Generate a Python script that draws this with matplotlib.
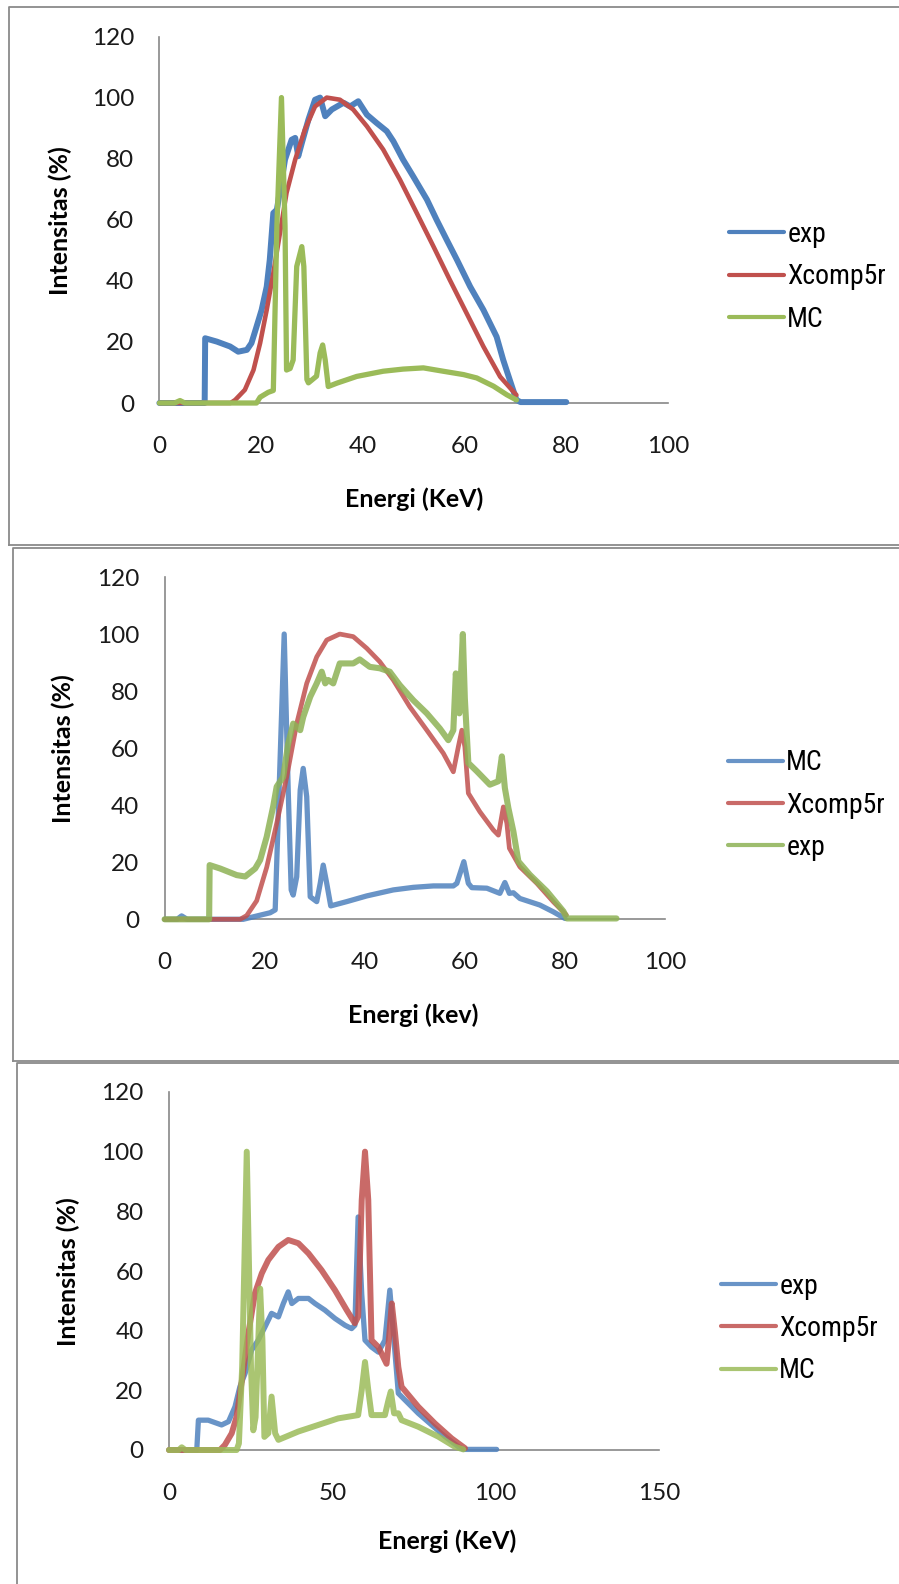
import matplotlib
matplotlib.use('Agg')
import matplotlib.pyplot as plt
from matplotlib.lines import Line2D
from matplotlib import font_manager as fm

# ---------------- data ----------------
# Panel 1 (top)
p1_exp_E = [0, 8.9, 9.0, 11.3, 13.9, 15.5, 17.2, 18.1, 19.1, 20.1, 21.1, 21.7, 22.4, 23.1, 24.7, 26.0,
            26.7, 27.3, 28.0, 29.3, 30.6, 31.6, 32.6, 33.9, 36.2, 37.5, 39.1, 40.8, 42.7, 44.7, 46.0,
            47.9, 49.9, 52.6, 54.5, 56.5, 58.5, 61.1, 63.7, 66.3, 67.6, 68.9, 70.2, 71.0, 80.0]
p1_exp_I = [0, 0, 21.2, 20.1, 18.5, 16.8, 17.4, 19.6, 25.0, 30.5, 38.1, 46.9, 62.2, 63.3, 79.7, 86.2,
            86.8, 80.8, 85.1, 92.8, 99.3, 100.0, 93.9, 96.1, 98.3, 97.1, 98.8, 94.4, 91.7, 89.0, 85.7,
            79.7, 74.2, 66.6, 60.0, 53.4, 46.9, 38.1, 30.5, 21.7, 14.1, 7.5, 1.0, 0.3, 0.3]
p1_xc_E = [0, 14.0, 14.9, 16.8, 18.5, 19.8, 21.1, 22.4, 23.7, 25.0, 26.7, 28.6, 30.6, 32.9, 35.5, 38.1,
           40.8, 44.0, 47.3, 50.6, 53.9, 57.1, 60.4, 63.7, 67.0, 70.2]
p1_xc_I = [0, 0, 1.0, 4.3, 10.8, 19.6, 30.5, 42.5, 55.6, 68.8, 79.7, 89.5, 97.1, 100.0, 99.3, 96.1,
           90.6, 83.0, 73.1, 62.2, 51.2, 40.3, 29.4, 18.5, 8.6, 2.6]
p1_mc_E = [0, 3.0, 4.05, 5.0, 19.1, 19.8, 21.4, 22.4, 23.1, 24.0, 24.7, 25.0, 25.7, 26.3, 27.0, 28.0,
           28.4, 29.0, 29.3, 30.9, 31.6, 32.1, 32.6, 33.2, 34.9, 38.8, 44.0, 47.9, 51.9, 55.8, 59.8,
           62.4, 65.7, 68.3, 70.2]
p1_mc_I = [0, 0, 0.8, 0, 0, 1.9, 3.5, 4.1, 58.0, 100.0, 58.0, 10.8, 11.3, 14.1, 44.7, 51.2,
           44.7, 7.7, 6.6, 8.8, 16.4, 19.0, 14.1, 5.4, 6.5, 8.7, 10.4, 11.1, 11.5, 10.4, 9.3,
           8.2, 5.5, 2.7, 1.0]

# Panel 2 (middle)
p2_mc_E = [0, 2.5, 3.4, 4.5, 15.7, 21.1, 22.1, 23.9, 24.7, 25.3, 25.7, 26.4, 27.1, 27.7, 28.4, 29.1,
           30.4, 31.1, 31.7, 32.4, 33.2, 36.4, 40.4, 45.7, 49.7, 53.7, 57.7, 58.4, 59.8, 60.7, 61.4,
           64.4, 67.0, 68.0, 68.9, 69.7, 71.0, 75.0, 77.7, 80.0]
p2_mc_I = [0, 0, 1.2, 0, 0, 2.3, 3.3, 100.0, 45.3, 10.3, 8.5, 14.9, 45.3, 52.9, 43.0, 7.9,
           6.2, 12.6, 19.0, 12.6, 4.7, 6.2, 8.2, 10.3, 11.2, 11.7, 11.7, 12.6, 20.2, 12.6, 11.1,
           10.9, 9.1, 12.9, 9.1, 9.3, 7.3, 5.0, 2.6, 0.3]
p2_xc_E = [0, 15.1, 16.4, 18.4, 20.4, 22.4, 24.4, 26.4, 28.4, 30.4, 32.4, 35.0, 37.7, 40.4, 43.0, 45.7,
           49.0, 52.4, 55.7, 57.7, 58.7, 59.4, 60.0, 60.7, 63.0, 65.7, 66.7, 67.7, 68.4, 68.9, 71.0,
           74.4, 77.7, 80.3]
p2_xc_I = [0, 0, 1.3, 6.5, 18.2, 33.6, 49.9, 68.6, 82.7, 92.0, 97.9, 100.0, 99.1, 95.0, 90.3, 83.9,
           74.5, 66.3, 58.2, 51.7, 60.5, 66.3, 60.5, 44.2, 37.7, 31.3, 29.5, 39.4, 33.6, 24.9, 18.4,
           12.6, 6.1, 1.5]
p2_exp_E = [0, 8.9, 9.0, 11.1, 14.4, 16.1, 18.1, 19.1, 20.4, 21.7, 22.4, 23.7, 24.7, 25.7, 27.1, 27.7,
            29.1, 30.4, 31.4, 32.1, 32.7, 33.7, 35.0, 37.7, 39.0, 41.0, 43.0, 45.0, 47.0, 49.7, 52.4,
            55.0, 56.7, 57.7, 58.2, 58.9, 59.6, 60.0, 60.7, 62.4, 65.0, 66.7, 67.4, 68.0, 68.7, 69.7,
            70.7, 73.0, 76.4, 79.7, 80.4, 90.3]
p2_exp_I = [0, 0, 19.0, 17.8, 15.5, 15.0, 17.8, 20.8, 28.9, 39.6, 46.5, 49.9, 61.6, 68.6, 66.3, 70.9,
            78.0, 82.7, 86.8, 82.7, 83.9, 82.7, 89.7, 89.7, 91.1, 88.5, 88.0, 86.8, 82.1, 76.8, 72.2,
            66.9, 62.8, 66.3, 86.2, 72.2, 100.0, 77.4, 54.8, 51.9, 47.2, 48.4, 57.1, 46.0, 39.0, 30.8,
            20.3, 15.6, 9.8, 2.8, 0.3, 0.3]

# Panel 3 (bottom)
p3_exp_E = [0, 8.5, 9.0, 12.0, 16.1, 18.2, 20.2, 21.7, 23.3, 25.3, 27.3, 29.4, 31.4, 33.5, 35.0, 36.5,
            37.6, 39.6, 42.7, 44.7, 47.7, 50.8, 53.9, 55.9, 56.9, 57.9, 59.0, 60.0, 62.0, 64.1, 66.1,
            67.6, 68.7, 69.7, 70.2, 72.2, 76.3, 80.4, 84.5, 88.6, 90.1, 100.3]
p3_exp_I = [0, 0, 10.0, 10.0, 8.4, 9.5, 14.5, 21.2, 25.7, 33.5, 36.8, 41.3, 45.8, 44.6, 49.1, 53.0,
            49.1, 50.8, 50.8, 49.1, 46.9, 44.1, 41.8, 40.7, 41.8, 78.1, 52.2, 36.8, 34.5, 32.8, 36.8,
            53.6, 39.0, 25.7, 19.0, 16.8, 12.3, 8.4, 4.5, 1.1, 0.2, 0.2]
p3_xc_E = [0, 15.6, 17.1, 19.2, 20.7, 22.2, 24.3, 26.3, 28.4, 30.4, 33.5, 36.5, 39.6, 42.7, 46.7, 50.8,
           54.4, 56.9, 57.9, 59.0, 60.0, 61.0, 62.0, 64.1, 66.6, 67.3, 68.2, 69.2, 70.2, 71.2, 76.3,
           81.4, 86.5, 90.6]
p3_xc_I = [0, 0, 1.7, 5.6, 11.2, 22.4, 39.1, 52.5, 59.2, 63.7, 68.1, 70.4, 69.3, 65.9, 60.3, 53.6,
           46.9, 42.5, 44.7, 83.8, 100.0, 83.8, 36.8, 34.5, 28.9, 36.8, 49.1, 39.1, 27.8, 21.2, 14.5,
           8.9, 3.9, 0.6]
p3_mc_E = [0, 3.0, 3.9, 5.0, 20.7, 21.4, 22.4, 23.8, 25.1, 25.8, 26.5, 27.9, 28.6, 29.2, 30.4, 31.4,
           32.5, 33.5, 39.6, 45.7, 51.8, 57.9, 59.0, 60.0, 61.0, 62.0, 66.1, 67.2, 67.9, 68.9, 70.2,
           71.2, 76.3, 82.4, 87.5, 90.1]
p3_mc_I = [0, 0, 0.9, 0, 0, 2.2, 27.9, 100.0, 27.9, 6.6, 11.0, 54.1, 36.8, 4.4, 5.6, 17.9,
           5.6, 3.4, 6.2, 8.4, 10.6, 11.7, 20.1, 29.5, 20.1, 11.7, 11.7, 16.8, 19.6, 12.3, 12.3,
           10.0, 7.8, 4.5, 1.1, 0.2]

y_ticks = [0, 20, 40, 60, 80, 100, 120]
x_ticks_12 = [0, 20, 40, 60, 80, 100]
x_ticks_3 = [0, 50, 100, 150]

BLUE, RED, GREEN = '#4F81BD', '#C0504D', '#9BBB59'

# ---------------- figure ----------------
W, H = 899, 1584
fig = plt.figure(figsize=(W / 100, H / 100), dpi=100)
fig.patch.set_facecolor('white')

avail = {f.name for f in fm.fontManager.ttflist}
if 'Roboto Condensed' in avail:
    LEG_FAM, LEG_SIZE = ['Roboto Condensed', 'DejaVu Sans'], 20
else:
    LEG_FAM, LEG_SIZE = ['Roboto', 'DejaVu Sans'], 17
TICK_FAM = ['Lato', 'DejaVu Sans']


def px_axes(x0, x1, ytop, ybot):
    return fig.add_axes([x0 / W, 1 - ybot / H, (x1 - x0) / W, (ybot - ytop) / H])


def fig_line(xs, ys):
    fig.add_artist(Line2D([x / W for x in xs], [1 - y / H for y in ys],
                          transform=fig.transFigure, color='#8a8a8a', lw=1.3))


# panel borders (chart-area frames)
fig_line([9, 9, 899], [545, 7, 7])
fig_line([9, 899], [545, 545])
fig_line([13, 13, 899], [1061, 548, 548])
fig_line([13, 899], [1061, 1061])
fig_line([17, 17, 899], [1584, 1062.5, 1062.5])


def style(ax, xmax, xticks, xlab, xl_coords, yl_coords):
    ax.set_xlim(0, xmax)
    ax.set_ylim(0, 120)
    ax.set_xticks(xticks)
    ax.set_yticks(y_ticks)
    ax.patch.set_alpha(0)
    for s in ['top', 'right']:
        ax.spines[s].set_visible(False)
    for s in ['left', 'bottom']:
        ax.spines[s].set_color('#888888')
        ax.spines[s].set_linewidth(1.2)
    ax.tick_params(axis='both', length=0, labelsize=17.5, colors='#1a1a1a')
    ax.tick_params(axis='y', pad=18.3)
    ax.tick_params(axis='x', pad=23.5)
    for lab in ax.get_xticklabels() + ax.get_yticklabels():
        lab.set_fontfamily(TICK_FAM)
    ax.set_xlabel(xlab, fontfamily=TICK_FAM, fontweight='bold', fontsize=18, color='black')
    ax.set_ylabel('Intensitas (%)', fontfamily=TICK_FAM, fontweight='bold', fontsize=18,
                  color='black')
    ax.xaxis.set_label_coords(*xl_coords)
    ax.yaxis.set_label_coords(*yl_coords)


def add_legend(ax, x_left, y_center):
    leg = ax.legend(loc='center left', bbox_to_anchor=(x_left / W, 1 - y_center / H),
                    bbox_transform=fig.transFigure, frameon=False, borderpad=0,
                    borderaxespad=0, handlelength=1.98, handletextpad=0.12,
                    labelspacing=0.55, prop={'family': LEG_FAM, 'size': LEG_SIZE})
    for ln in leg.get_lines():
        ln.set_linewidth(3.0)
        ln.set_solid_capstyle('round')
    return leg


def plot(ax, E, I, color, lw, label, alpha=1.0):
    ax.plot(E, I, color=color, lw=lw, label=label, alpha=alpha, clip_on=False,
            solid_joinstyle='round', solid_capstyle='round', zorder=3)


# ---- panel 1 ----
ax1 = px_axes(159.4, 668, 36.5, 403)
plot(ax1, p1_exp_E, p1_exp_I, BLUE, 4.3, 'exp')
plot(ax1, p1_xc_E, p1_xc_I, RED, 3.3, 'Xcomp5r')
plot(ax1, p1_mc_E, p1_mc_I, GREEN, 3.8, 'MC')
style(ax1, 100, x_ticks_12, 'Energi (KeV)', (0.5016, -0.229), (-0.172, 0.497))
add_legend(ax1, 729, 277)

# ---- panel 2 ----
ax2 = px_axes(164.6, 665, 577, 919.3)
plot(ax2, p2_mc_E, p2_mc_I, BLUE, 3.8, 'MC', 0.85)
plot(ax2, p2_xc_E, p2_xc_I, RED, 3.4, 'Xcomp5r', 0.85)
plot(ax2, p2_exp_E, p2_exp_I, '#8DB255', 4.4, 'exp', 0.85)
style(ax2, 100, x_ticks_12, 'Energi (kev)', (0.496, -0.245), (-0.179, 0.50))
add_legend(ax2, 728, 805)

# ---- panel 3 ----
ax3 = px_axes(169, 659, 1092, 1450)
plot(ax3, p3_exp_E, p3_exp_I, BLUE, 3.8, 'exp', 0.85)
plot(ax3, p3_xc_E, p3_xc_I, RED, 4.3, 'Xcomp5r', 0.85)
plot(ax3, p3_mc_E, p3_mc_I, GREEN, 4.3, 'MC', 0.85)
style(ax3, 150, x_ticks_3, 'Energi (KeV)', (0.568, -0.2207), (-0.182, 0.498))
add_legend(ax3, 721, 1328.7)

fig.savefig('out.png', dpi=100, facecolor='white')
